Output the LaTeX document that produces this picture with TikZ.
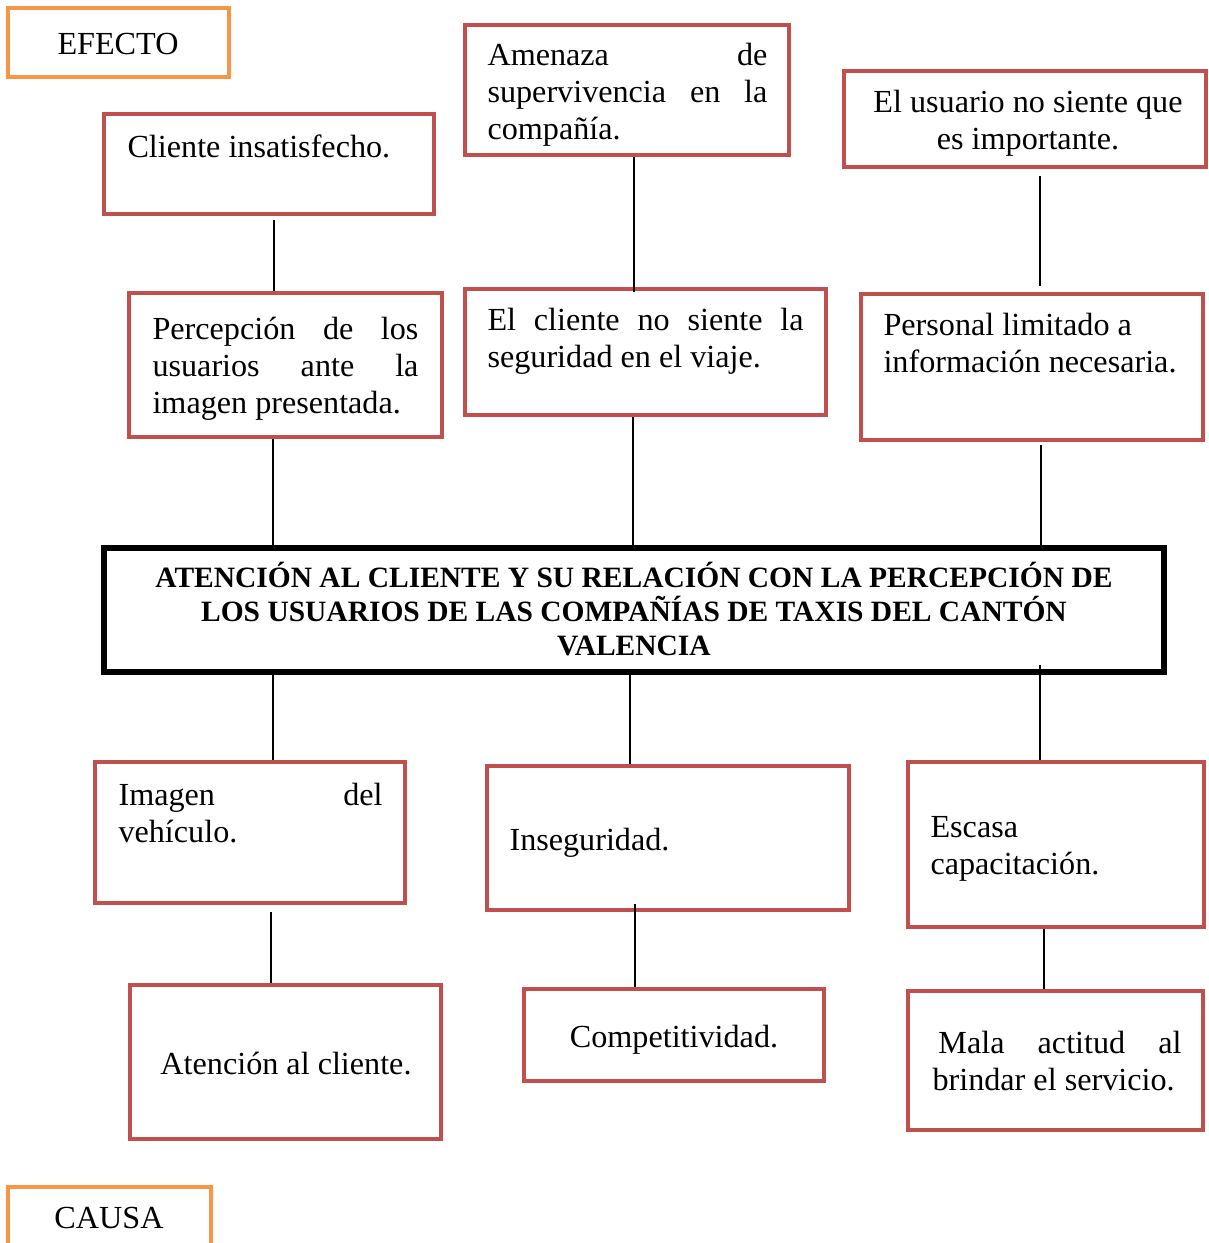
\documentclass[tikz,border=0pt]{standalone}
\usepackage{fontspec}
\setmainfont{Liberation Serif}
\usepackage{tikz}
\usetikzlibrary{fit}
\usepackage{color}
\definecolor{rojo}{RGB}{192,80,77}
\definecolor{naranja}{RGB}{247,150,70}
\hyphenpenalty=10000
\exhyphenpenalty=10000
\hbadness=10000
\tolerance=10000
\tikzset{
	cadre/.style={draw=rojo,line width=1.7pt,inner sep=0pt},
	cadreorange/.style={draw=naranja,line width=1.7pt,inner sep=0pt},
	cadrenoir/.style={draw=black,line width=1.9pt,inner sep=0pt},
	texte/.style={inner sep=0pt,font=\fontsize{12}{13.8}\selectfont},
	titre/.style={inner sep=0pt,align=flush center,font=\bfseries\fontsize{11}{12.7}\selectfont},
	lien/.style={draw=black,line width=0.55pt}
}
\begin{document}
\begin{tikzpicture}[x=0.373pt,y=-0.373pt]
					\useasboundingbox (0,0) rectangle (1209,1243);
%					Tracé des cadres (effets) :
					\node[cadreorange,fit={(8,8) (229,77)}] (efecto) {};
					\node[cadre,fit={(104,114) (434,214)}] (cliente) {};
					\node[cadre,fit={(465,25) (789,155)}] (amenaza) {};
					\node[cadre,fit={(844,71) (1206,167)}] (usuario) {};
					\node[cadre,fit={(129,293) (442,437)}] (percepcion) {};
					\node[cadre,fit={(465,289) (826,415)}] (seguridad) {};
					\node[cadre,fit={(861,294) (1203,440)}] (personal) {};
%					Tracé du problème central :
					\node[cadrenoir,fit={(104,548) (1164,672)}] (problema) {};
%					Tracé des cadres (causes) :
					\node[cadre,fit={(95,762) (405,903)}] (imagen) {};
					\node[cadre,fit={(487,766) (849,910)}] (inseguridad) {};
					\node[cadre,fit={(908,762) (1204,927)}] (escasa) {};
					\node[cadre,fit={(130,985) (441,1139)}] (atencion) {};
					\node[cadre,fit={(524,989) (824,1081)}] (competitividad) {};
					\node[cadre,fit={(908,991) (1203,1130)}] (mala) {};
					\node[cadreorange,fit={(8,1187) (211,1258)}] (causa) {};
%					Textes :
					\node[texte,anchor=base] (tefecto) at (118,54) {EFECTO};
					\node[texte,anchor=base] (tcausa) at (109,1228) {CAUSA};
					\node[texte,anchor=base west] (tcliente) at (127,157) {Cliente insatisfecho.};
					\node[texte,anchor=base west,text width=104.4pt,align=justify] (tamenaza) at (487,65)
						{Amenaza de\linebreak supervivencia en la\linebreak compañía.};
					\node[texte,anchor=base,text width=130pt,align=flush center] (tusuario) at (1028,112)
						{El usuario no siente que\\ es importante.};
					\node[texte,anchor=base west,text width=99.2pt,align=justify] (tpercepcion) at (152,339)
						{Percepción de los\linebreak usuarios ante la\linebreak imagen presentada.};
					\node[texte,anchor=base west,text width=117.9pt,align=justify] (tseguridad) at (487,330)
						{El cliente no siente la\linebreak seguridad en el viaje.};
					\node[texte,anchor=base west,text width=125pt,align=flush left] (tpersonal) at (883,335)
						{Personal limitado a\\ información necesaria.};
					\node[titre] (ttitulo) at (634,609)
						{ATENCIÓN AL CLIENTE Y SU RELACIÓN CON LA PERCEPCIÓN DE\\
						LOS USUARIOS DE LAS COMPAÑÍAS DE TAXIS DEL CANTÓN\\
						VALENCIA};
					\node[texte,anchor=base west,text width=98.5pt,align=justify] (timagen) at (118,805)
						{Imagen del\linebreak vehículo.};
					\node[texte,anchor=base west] (tinseguridad) at (509,850) {Inseguridad.};
					\node[texte,anchor=base west,text width=100pt,align=flush left] (tescasa) at (930,837)
						{Escasa\\ capacitación.};
					\node[texte,anchor=base] (tatencion) at (286,1074) {Atención al cliente.};
					\node[texte,anchor=base] (tcompetitividad) at (674,1047) {Competitividad.};
					\node[texte,anchor=base west,text width=92.9pt,align=justify] (tmala) at (932,1053)
						{\hspace*{2.2pt}Mala actitud al\linebreak brindar el servicio.};
%					Tracé des liens :
					\draw[lien,shorten <=1.5pt] (cliente.south -| 274,0) -- (percepcion.north -| 274,0);
					\draw[lien] (percepcion.south -| 273,0) -- (problema.north -| 273,0);
					\draw[lien,shorten >=-1.8pt] (amenaza.south -| 634,0) -- (seguridad.north -| 634,0);
					\draw[lien] (seguridad.south -| 633,0) -- (problema.north -| 633,0);
					\draw[lien,shorten <=2.4pt,shorten >=2.2pt] (usuario.south -| 1040,0) -- (personal.north -| 1040,0);
					\draw[lien,shorten <=1pt] (personal.south -| 1041,0) -- (problema.north -| 1041,0);
					\draw[lien] (problema.south -| 273,0) -- (imagen.north -| 273,0);
					\draw[lien] (problema.south -| 630,0) -- (inseguridad.north -| 630,0);
					\draw[lien,shorten <=-3.7pt] (problema.south -| 1040,0) -- (escasa.north -| 1040,0);
					\draw[lien,shorten <=2.6pt] (imagen.south -| 271,0) -- (atencion.north -| 271,0);
					\draw[lien,shorten <=-3pt] (inseguridad.south -| 635,0) -- (competitividad.north -| 635,0);
					\draw[lien] (escasa.south -| 1044,0) -- (mala.north -| 1044,0);
\end{tikzpicture}
\end{document}
